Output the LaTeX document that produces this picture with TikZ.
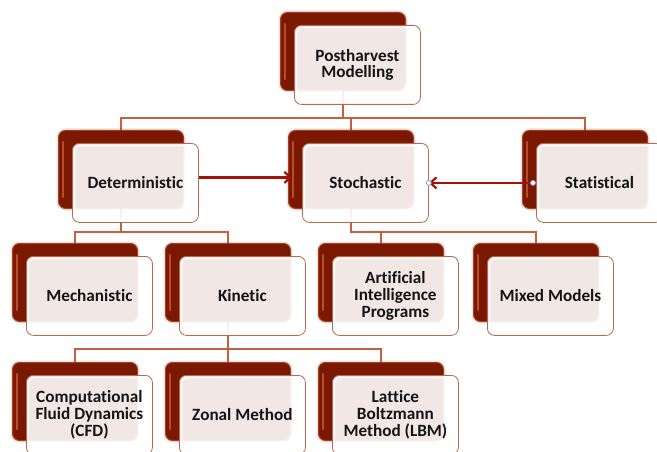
\documentclass[tikz,border=0pt]{standalone}
\usepackage{fontspec}
\setmainfont[Ligatures=NoCommon]{Carlito}
\usetikzlibrary{arrows.meta,calc}
\pgfdeclarelayer{background}
\pgfsetlayers{background,main}
\definecolor{darkbox}{RGB}{122,24,2}
\definecolor{darkedge}{RGB}{172,62,30}
\definecolor{hlcol}{RGB}{196,92,60}
\definecolor{frontedge}{RGB}{184,104,80}
\definecolor{treeline}{RGB}{196,96,64}
\definecolor{arrowred}{RGB}{160,18,10}
\definecolor{dotblue}{RGB}{140,160,205}
\tikzset{
 backbox/.style={draw=darkedge, line width=1pt, fill=darkbox, rounded corners=7pt,
   minimum width=125pt, minimum height=78pt, inner sep=0pt, anchor=north west,
   preaction={draw=black, line width=4pt, opacity=0.10}},
 hl/.style={draw=hlcol, line width=2.4pt, line cap=round, opacity=0.8},
 frontbox/.style={draw=frontedge, line width=0.8pt, fill=white, fill opacity=0.9, text opacity=1,
   rounded corners=7pt, minimum width=126pt, minimum height=79pt, anchor=north west,
   align=center, font=\bfseries\fontsize{17.2}{16.8}\selectfont, text={black!92}, inner sep=0pt},
 innerline/.style={draw=white, line width=1.3pt, rounded corners=5pt},
 tree/.style={draw=treeline, line width=1.4pt},
 bigarrow/.style={draw=arrowred, line width=2.2pt, -{Straight Barb[length=6pt,width=11pt]}},
 dotnode/.style={circle, draw=dotblue, fill=white, line width=0.8pt, minimum size=5pt, inner sep=0pt}
}
\newcommand{\boxpair}[4]{%
 \node[backbox] (#1d) at (#2,#3) {};
 \draw[hl] ([xshift=5pt,yshift=-12pt]#1d.north west) -- ([xshift=5pt,yshift=12pt]#1d.south west);
 \node[frontbox] (#1) at ({#2+14},{#3+13}) {#4};
 \draw[innerline] ([xshift=2.5pt,yshift=-2.5pt]#1.north west) rectangle ([xshift=-2.5pt,yshift=2.5pt]#1.south east);
}
\begin{document}
\begin{tikzpicture}[x=1pt,y=-1pt]
\useasboundingbox (0,0) rectangle (657,452);
\boxpair{top}{280}{12}{Postharvest\\Modelling}
\boxpair{det}{58}{130}{Deterministic}
\boxpair{sto}{288}{130}{Stochastic}
\boxpair{stat}{522}{130}{Statistical}
\boxpair{mech}{12}{243}{Mechanistic}
\boxpair{kin}{165}{243}{Kinetic}
\boxpair{ai}{318}{243}{Artificial\\Intelligence\\Programs}
\boxpair{mix}{473}{243}{Mixed Models}
\boxpair{cfd}{12}{362}{Computational\\Fluid Dynamics\\(CFD)}
\boxpair{zon}{165}{362}{Zonal Method}
\boxpair{lbm}{318}{362}{Lattice\\Boltzmann\\Method (LBM)}
\coordinate (b1) at (0,118);
\coordinate (b2) at (0,232);
\coordinate (b3) at (0,349);
\begin{pgfonlayer}{background}
\fill[white] (0,0) rectangle (657,452);
\draw[tree] (topd.south) -- (topd.south |- b1);
\draw[tree] (detd.north) |- (statd.north |- b1) -- (statd.north);
\draw[tree] (stod.north) -- (stod.north |- b1);
\draw[tree] (detd.south) -- (detd.south |- b2);
\draw[tree] (mechd.north) |- (kind.north |- b2) -- (kind.north);
\draw[tree] (stod.south) |- (mixd.north |- b2) -- (mixd.north);
\draw[tree] (aid.north) -- (aid.north |- b2);
\draw[tree] (kind.south) -- (kind.south |- b3);
\draw[tree] (cfdd.north) |- (lbmd.north |- b3) -- (lbmd.north);
\draw[tree] (zond.north) -- (zond.north |- b3);
\end{pgfonlayer}
\coordinate (a1) at ([yshift=5.5pt]det.east);
\coordinate (a2) at ([xshift=4pt]stod.west);
\draw[bigarrow] (a1) -- (a1 -| a2);
\coordinate (s1) at ([xshift=-3pt]stat.west);
\coordinate (s2) at (sto.east);
\draw[bigarrow] (s1) -- (s2);
\node[dotnode] (dotA) at (s1) {};
\node[dotnode] (dotB) at (s2) {};
\end{tikzpicture}
\end{document}
